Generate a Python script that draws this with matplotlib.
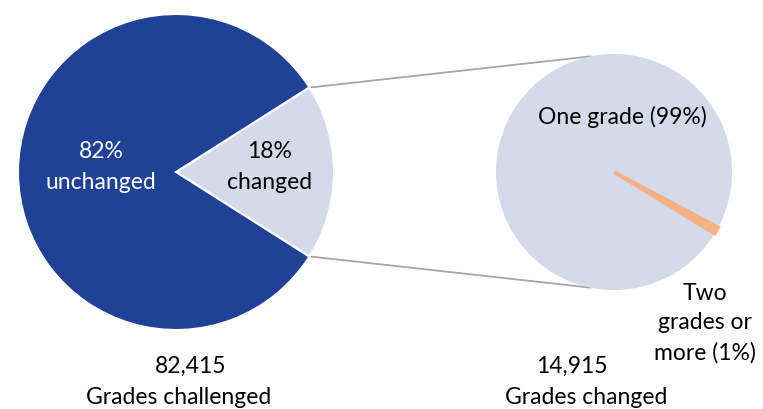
import matplotlib
matplotlib.use("Agg")
import matplotlib.pyplot as plt
import numpy as np

plt.rcParams['font.family'] = ['Lato', 'DejaVu Sans']

# Data
left_labels = ["18%\nchanged", "82%\nunchanged"]
left_values = [18, 82]
right_labels = ["Two\ngrades or\nmore (1%)", "One grade (99%)"]
right_values = [1, 99]
totals = ["82,415", "14,915"]
total_captions = ["Grades challenged", "Grades changed"]

W, H = 763, 409
fig = plt.figure(figsize=(W / 100, H / 100), dpi=100)
ax = fig.add_axes([0, 0, 1, 1])

dark = "#1F4196"
light = "#D3DAEA"
orange = "#F4B183"

lc = (176, H - 172)
lr = 158
rc = (614, H - 172)
rr = 118

half = left_values[0] / sum(left_values) * 360 / 2
ax.pie(left_values, colors=[light, dark], startangle=-half, counterclock=True,
       center=lc, radius=lr, wedgeprops=dict(edgecolor="white", linewidth=1.5),
       frame=True)

start_r = -31.5
wr, _ = ax.pie(right_values, colors=[orange, light], startangle=start_r, counterclock=True,
               center=rc, radius=rr, explode=[0.04, 0], wedgeprops=dict(linewidth=0),
               frame=True)
wr[0].set_edgecolor(orange)
wr[0].set_linewidth(2.5)
wr[0].set_joinstyle('miter')
wr[0].set_zorder(3)

ax.set_xlim(0, W)
ax.set_ylim(0, H)
ax.set_aspect('equal')
ax.axis('off')

# connector lines
for sgn in (1, -1):
    a = np.deg2rad(sgn * half)
    x0 = lc[0] + lr * np.cos(a)
    y0 = lc[1] + lr * np.sin(a)
    b = np.deg2rad(sgn * 101.5)
    x1 = rc[0] + rr * np.cos(b)
    y1 = rc[1] + rr * np.sin(b)
    ax.plot([x0 + 2, x1], [y0, y1], color="#A6A6A6", lw=1.3, zorder=0)

fs = 16.5
ax.text(101, H - 167, left_labels[1], color="white", ha="center", va="center",
        fontsize=fs, linespacing=1.55)
ax.text(270, H - 167, left_labels[0], color="black", ha="center", va="center",
        fontsize=fs, linespacing=1.55)
ax.text(622, H - 117, right_labels[1], color="black", ha="center", va="center",
        fontsize=fs)
ax.text(705, H - 323, right_labels[0], color="black", ha="center",
        va="center", fontsize=fs, linespacing=1.5)

ax.text(191, H - 366, totals[0], ha="center", va="center", fontsize=fs)
ax.text(179, H - 397, total_captions[0], ha="center", va="center", fontsize=fs)
ax.text(572, H - 366, totals[1], ha="center", va="center", fontsize=fs)
ax.text(586, H - 397, total_captions[1], ha="center", va="center", fontsize=fs)

fig.savefig("out.png", dpi=100)
